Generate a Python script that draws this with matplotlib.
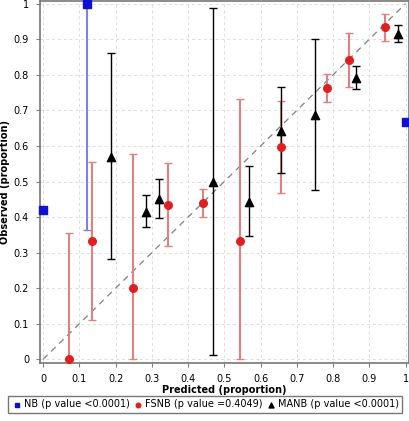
import numpy as np
import matplotlib.pyplot as plt

# NB
nb_x = [0.0, 0.12, 1.0]
nb_y = [0.42, 1.0, 0.667]
nb_lo = [0.42, 0.365, 0.667]
nb_hi = [0.42, 1.0, 0.667]

# FSNB
fs_x = [0.072, 0.135, 0.248, 0.345, 0.442, 0.544, 0.657, 0.782, 0.843, 0.942]
fs_y = [0.0, 0.333, 0.2, 0.435, 0.44, 0.333, 0.597, 0.763, 0.842, 0.935]
fs_lo = [0.0, 0.11, 0.0, 0.318, 0.40, 0.0, 0.468, 0.724, 0.766, 0.896]
fs_hi = [0.355, 0.556, 0.578, 0.553, 0.478, 0.733, 0.727, 0.803, 0.918, 0.972]

# MANB
ma_x = [0.188, 0.284, 0.32, 0.469, 0.569, 0.657, 0.749, 0.862, 0.978]
ma_y = [0.57, 0.415, 0.45, 0.499, 0.442, 0.643, 0.687, 0.792, 0.915]
ma_lo = [0.282, 0.372, 0.397, 0.013, 0.346, 0.523, 0.475, 0.76, 0.893]
ma_hi = [0.86, 0.462, 0.508, 0.989, 0.543, 0.766, 0.9, 0.824, 0.94]

fig = plt.figure(figsize=(4.1, 4.21), dpi=100)
ax = fig.add_axes([0.098, 0.138, 0.9, 0.86])

def yerr(y, lo, hi):
    y = np.array(y)
    return [y - np.array(lo), np.array(hi) - y]

ax.plot([0, 1], [0, 1], color='gray', linestyle=(0, (5, 4)), lw=0.9, zorder=1)

ax.errorbar(nb_x, nb_y, yerr=yerr(nb_y, nb_lo, nb_hi), fmt='none', ecolor='#8080e8',
            elinewidth=1.5, capsize=3, zorder=2)
ax.errorbar(fs_x, fs_y, yerr=yerr(fs_y, fs_lo, fs_hi), fmt='none', ecolor='#e08080',
            elinewidth=1.5, capsize=3, zorder=2)
ax.errorbar(ma_x, ma_y, yerr=yerr(ma_y, ma_lo, ma_hi), fmt='none', ecolor='black',
            elinewidth=1.0, capsize=3, zorder=3)

ax.scatter(nb_x, nb_y, marker='s', s=30, color='#1010d0', zorder=4, clip_on=False,
           label='NB (p value <0.0001)')
ax.scatter(fs_x, fs_y, marker='o', s=30, color='#e02020', zorder=4, clip_on=False,
           label='FSNB (p value =0.4049)')
ax.scatter(ma_x, ma_y, marker='^', s=35, color='black', zorder=5,
           label='MANB (p value <0.0001)')

ax.set_xlim(-0.008, 1.01)
ax.set_ylim(-0.01, 1.008)
ticks = np.round(np.arange(0, 1.01, 0.1), 1)
labels = ['0', '0.1', '0.2', '0.3', '0.4', '0.5', '0.6', '0.7', '0.8', '0.9', '1']
ax.set_xticks(ticks)
ax.set_xticklabels(labels)
ax.set_yticks(ticks)
ax.set_yticklabels(labels)
ax.tick_params(labelsize=7, length=3, color='gray', pad=5)
ax.grid(True, linestyle=(0, (3, 3)), color='#dddddd', lw=0.7)
ax.set_axisbelow(True)
for s in ax.spines.values():
    s.set_color('#777777')
    s.set_linewidth(1.2)

ax.set_xlabel('Predicted (proportion)', fontsize=7, fontweight='bold', labelpad=1)
ax.set_ylabel('Observed (proportion)', fontsize=7, fontweight='bold', labelpad=3)

fig.legend(loc='lower left', bbox_to_anchor=(0.007, 0.008, 0.986, 0.04), mode='expand',
           ncol=3, fontsize=7, frameon=True, fancybox=False, edgecolor='#555555',
           handletextpad=0.1, borderpad=0.35, markerscale=0.6, handlelength=1.2)

fig.savefig('out.png', dpi=100)
